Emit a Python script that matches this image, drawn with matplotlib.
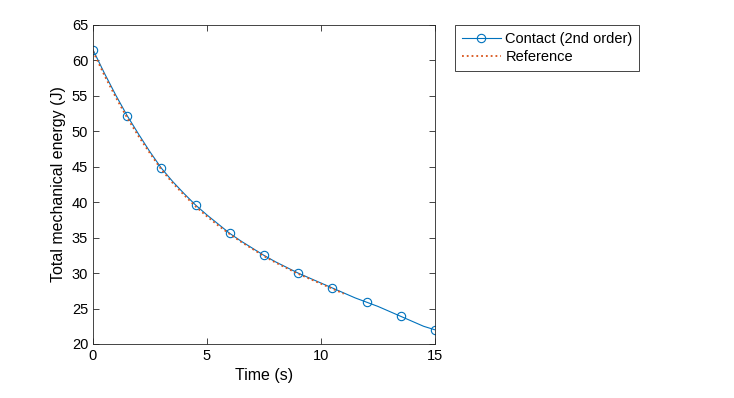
import numpy as np
import matplotlib.pyplot as plt

plt.rcParams['font.family'] = ['Liberation Sans', 'DejaVu Sans']

# contact solution (2nd order), sampled every 0.5 s
t_contact = [0.0, 0.5, 1.0, 1.5, 2.0, 2.5, 3.0, 3.5, 4.0, 4.5, 5.0, 5.5, 6.0,
             6.5, 7.0, 7.5, 8.0, 8.5, 9.0, 9.5, 10.0, 10.5, 11.0, 11.5, 12.0,
             12.5, 13.0, 13.5, 14.0, 14.5, 15.0]
e_contact = [61.5, 58.2, 55.1, 52.2, 49.6, 47.1, 44.8, 42.9, 41.2, 39.6, 38.2,
             36.9, 35.6, 34.5, 33.5, 32.5, 31.6, 30.8, 30.0, 29.3, 28.6, 27.9,
             27.2, 26.5, 25.9, 25.3, 24.6, 23.9, 23.2, 22.5, 22.0]

# reference solution (stops near 11 s)
t_ref = [0.0, 0.5, 1.0, 1.5, 2.0, 2.5, 3.0, 3.5, 4.0, 4.5, 5.0, 5.5, 6.0,
         6.5, 7.0, 7.5, 8.0, 8.5, 9.0, 9.5, 10.0, 10.5, 11.0]
e_ref = [61.3, 57.9, 54.8, 51.9, 49.3, 46.9, 44.6, 42.7, 41.0, 39.4, 38.0,
         36.7, 35.5, 34.4, 33.4, 32.4, 31.5, 30.7, 29.9, 29.2, 28.5, 27.8, 27.1]

blue = '#0072BD'
orange = '#D95319'
axcol = '#262626'

fig = plt.figure(figsize=(7.34, 3.98), dpi=100)
ax = fig.add_axes([0.1267, 0.1357, 0.4659, 0.8015])

ax.plot(t_contact, e_contact, '-o', color=blue, lw=0.8, ms=6,
        mfc='none', mew=0.8, markevery=3, label='Contact (2nd order)')
ax.plot(t_ref, e_ref, ':', color=orange, lw=1.3, label='Reference')

ax.set_xlim(0, 15)
ax.set_ylim(20, 65)
ax.set_xticks([0, 5, 10, 15])
ax.set_yticks(np.arange(20, 66, 5))
ax.tick_params(direction='in', top=True, right=True, length=4, width=0.6,
               colors=axcol, labelsize=10.5, labelcolor='black')
for s in ax.spines.values():
    s.set_color(axcol)
    s.set_linewidth(0.6)

ax.set_xlabel('Time (s)', fontsize=11.5)
ax.set_ylabel('Total mechanical energy (J)', fontsize=11.5)

leg = fig.legend(loc='upper left', bbox_to_anchor=(0.62, 0.937), fontsize=10.5,
                 fancybox=False, framealpha=1, edgecolor=axcol,
                 handlelength=2.7, borderpad=0.45, labelspacing=0.3,
                 handletextpad=0.3, borderaxespad=0)
leg.get_frame().set_linewidth(0.6)

fig.savefig('out.png', dpi=100)
